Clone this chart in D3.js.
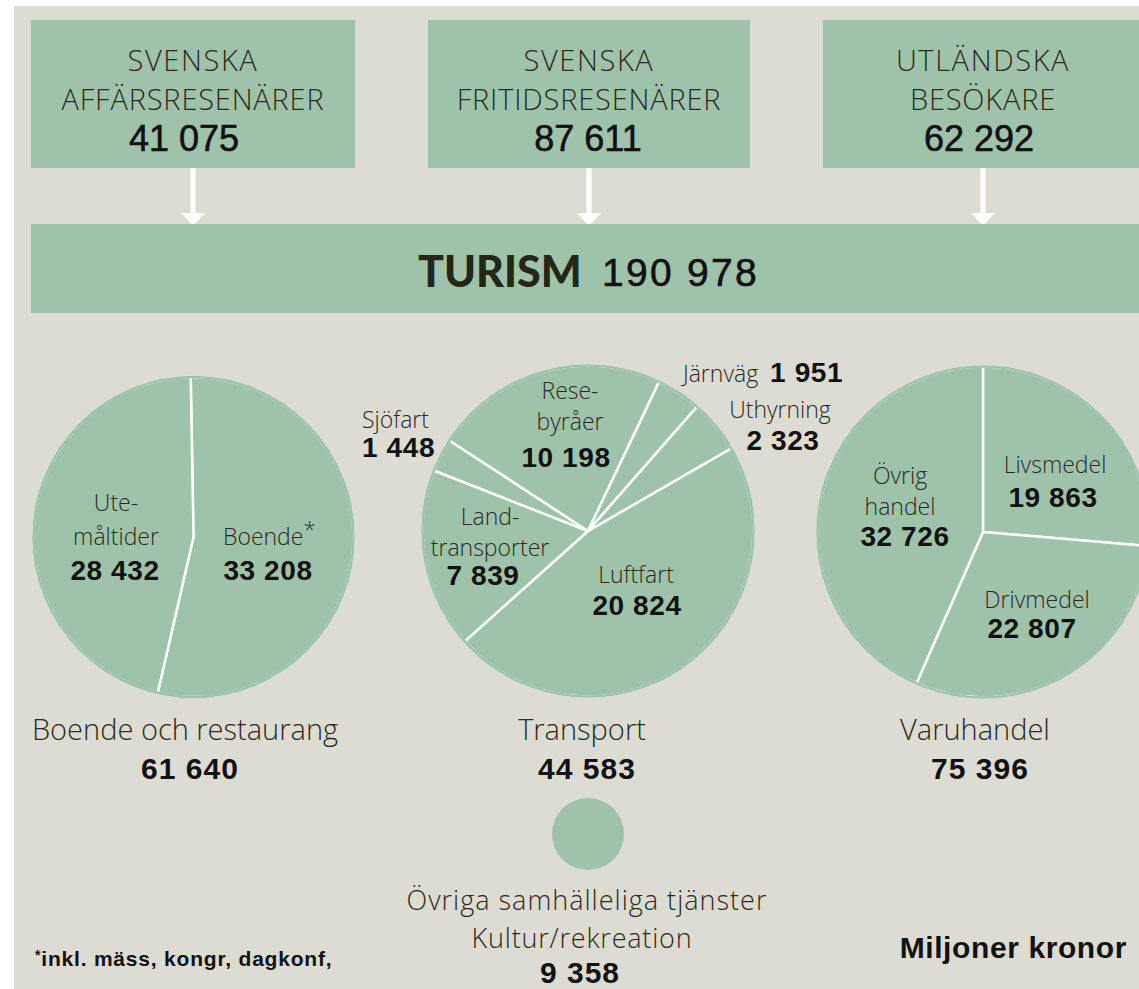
<!DOCTYPE html>
<html lang="sv">
<head>
<meta charset="utf-8">
<title>Turism</title>
<script src="https://d3js.org/d3.v7.min.js"></script>
<style>
  body { margin: 0; background: #fff; }
  svg { display: block; }
  .lbl { font-family: "Open Sans", Lato, sans-serif; font-weight: 300; fill: #2a2a1e; }
  .num { font-family: "Liberation Sans", Arial, sans-serif; font-weight: bold; fill: #111; }
  .reg { font-weight: normal; stroke: #111; stroke-width: 0.6px; }
</style>
</head>
<body>
<script>
// data (miljoner kronor)
const sourceNames = [["SVENSKA", "AFFÄRSRESENÄRER"], ["SVENSKA", "FRITIDSRESENÄRER"], ["UTLÄNDSKA", "BESÖKARE"]];
const sourceValues = [41075, 87611, 62292];
const totalValue = 190978;

const groupNames = ["Boende och restaurang", "Transport", "Varuhandel"];
const groupTotals = [61640, 44583, 75396];

const boendeCats = ["Boende", "Ute-måltider"];
const boendeValues = [33208, 28432];

const transportCats = ["Luftfart", "Landtransporter", "Sjöfart", "Resebyråer", "Järnväg", "Uthyrning"];
const transportValues = [20824, 7839, 1448, 10198, 1951, 2323];

const varuCats = ["Livsmedel", "Drivmedel", "Övrig handel"];
const varuValues = [19863, 22807, 32726];

const otherName = ["Övriga samhälleliga tjänster", "Kultur/rekreation"];
const otherValue = 9358;

const W = 1139, H = 989;
const bg = "#dddcd3", green = "#9fc3aa";

const loc = d3.formatLocale({decimal: ",", thousands: "\u00a0", grouping: [3], currency: ["", ""]});
const fmt = loc.format(",d");

const svg = d3.select("body").append("svg")
  .attr("width", W).attr("height", H);

svg.append("rect").attr("x", 14).attr("y", 6).attr("width", W - 14).attr("height", H - 6).attr("fill", bg);

// top boxes
const boxX = [31, 428, 823], boxW = [324, 322, 330];
const arrowX = [193, 589, 983];
const numX = [184, 588, 979];
sourceNames.forEach((n, i) => {
  svg.append("rect").attr("x", boxX[i]).attr("y", 20).attr("width", boxW[i]).attr("height", 148).attr("fill", green);
  const cx = arrowX[i];
  svg.append("text").attr("class", "lbl").attr("x", cx).attr("y", 71).attr("text-anchor", "middle")
    .attr("font-size", 29).attr("letter-spacing", 1.6).text(n[0]);
  svg.append("text").attr("class", "lbl").attr("x", cx).attr("y", 110).attr("text-anchor", "middle")
    .attr("font-size", 29).attr("letter-spacing", 0.8).text(n[1]);
  svg.append("text").attr("class", "num reg").attr("x", numX[i]).attr("y", 151).attr("text-anchor", "middle")
    .attr("font-size", 36).text(fmt(sourceValues[i]));
  // arrow
  svg.append("path").attr("fill", "#fff")
    .attr("d", `M${cx - 2.5},168 L${cx + 2.5},168 L${cx + 2.5},213 L${cx + 12},213 L${cx},226 L${cx - 12},213 L${cx - 2.5},213 Z`);
});

// turism bar
svg.append("rect").attr("x", 31).attr("y", 224).attr("width", W - 31).attr("height", 89).attr("fill", green);
svg.append("text").attr("x", 418).attr("y", 287).attr("font-family", "Lato, sans-serif").attr("font-weight", 900)
  .attr("font-size", 43).attr("fill", "#25251a").text("TURISM");
svg.append("text").attr("class", "num reg").attr("x", 602).attr("y", 286).attr("font-size", 39)
  .attr("letter-spacing", 2.3).text(fmt(totalValue));

// pies
function drawPie(cx, cy, r, values, start) {
  const pie = d3.pie().sort(null).startAngle(start).endAngle(start + 2 * Math.PI);
  const arc = d3.arc().innerRadius(0).outerRadius(r);
  const g = svg.append("g").attr("transform", `translate(${cx},${cy})`);
  g.selectAll("path").data(pie(values)).join("path")
    .attr("d", arc).attr("fill", green)
    .attr("stroke", "#fff").attr("stroke-width", 2.5).attr("stroke-linejoin", "round");
  g.append("circle").attr("r", r).attr("fill", "none").attr("stroke", green).attr("stroke-width", 2.6);
}
const deg = Math.PI / 180;
drawPie(193.5, 537, 160, boendeValues, -1 * deg);
drawPie(588, 531, 165.5, transportValues, 60 * deg);
drawPie(983, 532, 165.5, varuValues, 0);

const LF = 23, NF = 28;
function txt(x, y, s, cls, fs, anchor) {
  const t = svg.append("text").attr("class", cls).attr("x", x).attr("y", y)
    .attr("text-anchor", anchor || "middle").attr("font-size", fs).text(s);
  if (cls === "num") t.attr("letter-spacing", 0.6);
  return t;
}

// boende pie labels
txt(116, 511, "Ute-", "lbl", LF);
txt(116, 545, "måltider", "lbl", LF);
txt(115, 580, fmt(boendeValues[1]), "num", NF);
const bt = svg.append("text").attr("class", "lbl").attr("x", 223).attr("y", 545).attr("font-size", LF);
bt.append("tspan").text("Boende");
bt.append("tspan").attr("font-size", 22).attr("dy", -8).text("*");
txt(268, 580, fmt(boendeValues[0]), "num", NF);

// transport labels
txt(570, 399, "Rese-", "lbl", LF);
txt(570, 430, "byråer", "lbl", LF);
txt(566, 467, fmt(transportValues[3]), "num", NF);
txt(362, 428, "Sjöfart", "lbl", LF, "start");
txt(362, 457, fmt(transportValues[2]), "num", NF, "start");
const jv = svg.append("text").attr("x", 683).attr("y", 382);
jv.append("tspan").attr("class", "lbl").attr("font-size", LF).text("Järnväg");
jv.append("tspan").attr("class", "num").attr("font-size", NF).attr("letter-spacing", 0.6).attr("dx", 12).text(fmt(transportValues[4]));
txt(780, 418, "Uthyrning", "lbl", LF);
txt(783, 450, fmt(transportValues[5]), "num", NF);
txt(490, 525, "Land-", "lbl", LF);
txt(490, 556, "transporter", "lbl", LF);
txt(483, 585, fmt(transportValues[1]), "num", NF);
txt(636, 583, "Luftfart", "lbl", LF);
txt(637, 615, fmt(transportValues[0]), "num", NF);

// varuhandel labels
txt(900, 484, "Övrig", "lbl", LF);
txt(900, 515, "handel", "lbl", LF);
txt(905, 546, fmt(varuValues[2]), "num", NF);
txt(1055, 473, "Livsmedel", "lbl", LF);
txt(1053, 507, fmt(varuValues[0]), "num", NF);
txt(1037, 608, "Drivmedel", "lbl", LF);
txt(1032, 638, fmt(varuValues[1]), "num", NF);

// group names
const groupX = [185, 582, 975];
groupNames.forEach((n, i) => {
  txt(groupX[i], 740, n, "lbl", 29);
  txt(groupX[i] + 5, 779, fmt(groupTotals[i]), "num", 30).attr("letter-spacing", 1);
});

// other services
svg.append("circle").attr("cx", 588).attr("cy", 834).attr("r", 36).attr("fill", green);
txt(587, 910, otherName[0], "lbl", 27).attr("letter-spacing", 1);
txt(582, 948, otherName[1], "lbl", 27).attr("letter-spacing", 0.8);
txt(580, 983, fmt(otherValue), "num", 30).attr("letter-spacing", 1);

// footnotes
const fn = svg.append("text").attr("class", "num").attr("x", 35).attr("y", 966).attr("font-size", 21).attr("letter-spacing", 0.8);
fn.append("tspan").attr("font-size", 14).attr("dy", -6).text("*");
fn.append("tspan").attr("dy", 6).text("inkl. mäss, kongr, dagkonf,");
svg.append("text").attr("class", "num").attr("x", 1127).attr("y", 958).attr("text-anchor", "end")
  .attr("font-size", 30).attr("letter-spacing", 0.6).text("Miljoner kronor");
</script>
</body>
</html>
